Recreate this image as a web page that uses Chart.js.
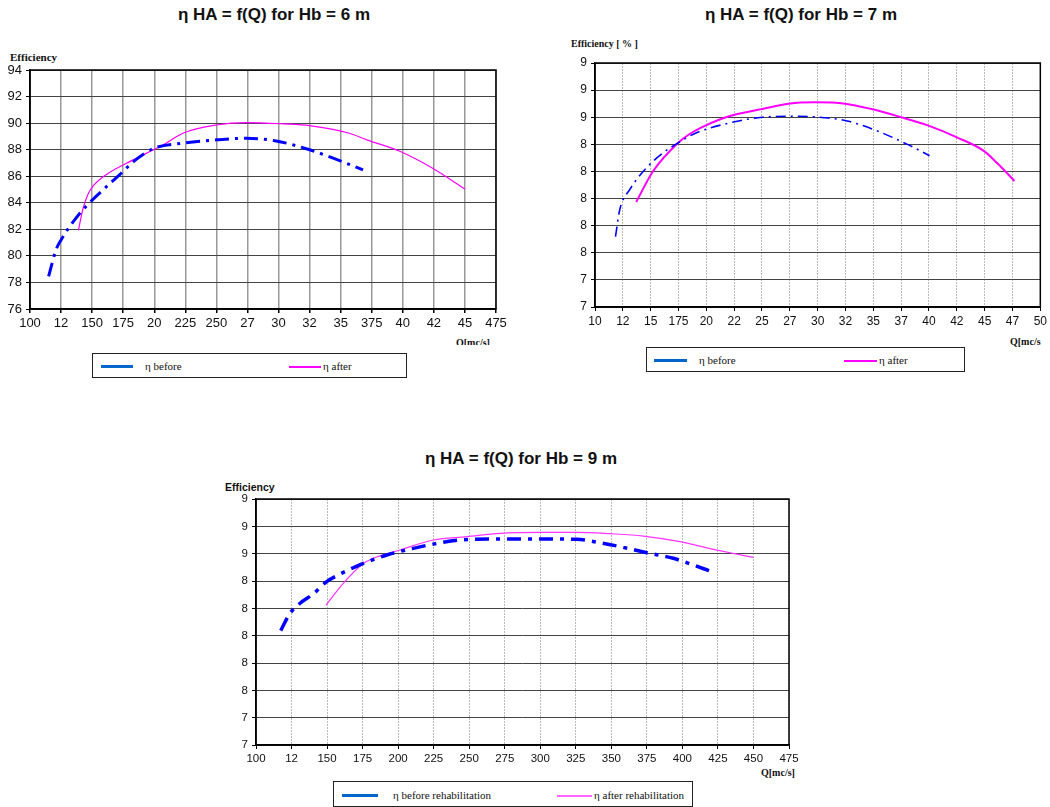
<!DOCTYPE html>
<html>
<head>
<meta charset="utf-8">
<script src="https://cdn.jsdelivr.net/npm/chart.js@4"></script>
<style>
  body { margin: 0; background: #fff; width: 1050px; height: 807px; position: relative; overflow: hidden; }
  .box { position: absolute; }
  .title { position: absolute; font: bold 17px Arial, "Liberation Sans", sans-serif; color: #111; white-space: nowrap; transform: translate(-50%, -50%); }
  .lbl { position: absolute; white-space: nowrap; color: #111; }
  .serif { font-family: "Times New Roman", "Liberation Serif", serif; }
  .legend { position: absolute; border: 1.5px solid #222; box-sizing: border-box; background: #fff; }
  .legend .ln { position: absolute; }
  .legend .tx { position: absolute; font: 11px "Times New Roman", "Liberation Serif", serif; color: #111; white-space: nowrap; transform: translateY(-50%); }
</style>
</head>
<body>

<div class="title" style="left:274px; top:15px;">η HA = f(Q) for Hb = 6 m</div>
<div class="title" style="left:801px; top:15px;">η HA = f(Q) for Hb = 7 m</div>
<div class="title" style="left:521px; top:459px;">η HA = f(Q) for Hb = 9 m</div>

<div class="lbl serif" style="left:10px; top:51px; font-size:11px; font-weight:bold;">Efficiency</div>
<div class="lbl serif" style="left:571px; top:38px; font-size:10px; font-weight:bold;">Efficiency [ % ]</div>
<div class="lbl" style="left:225px; top:481px; font:bold 10.5px Arial, 'Liberation Sans', sans-serif;">Efficiency</div>

<div class="lbl serif" style="left:456px; top:337px; height:8px; overflow:hidden; font-size:10px; font-weight:bold;">Q[mc/s]</div>
<div class="lbl serif" style="left:1010px; top:336px; font-size:10px; font-weight:bold;">Q[mc/s</div>
<div class="lbl serif" style="left:761px; top:767px; font-size:10px; font-weight:bold;">Q[mc/s]</div>

<div class="box" style="left:0; top:0;"><canvas id="chartA" width="510" height="335"></canvas></div>
<div class="box" style="left:530px; top:0;"><canvas id="chartB" width="520" height="335"></canvas></div>
<div class="box" style="left:190px; top:440px;"><canvas id="chartC" width="620" height="335"></canvas></div>

<div class="legend" style="left:92px; top:353px; width:315px; height:25px;">
  <div class="ln" style="left:8px; top:11px; width:32px; height:3px; background:#0066cc;"></div>
  <div class="tx" style="left:52px; top:12px;">η before</div>
  <div class="ln" style="left:196px; top:12px; width:32px; height:1.5px; background:#ff00ff;"></div>
  <div class="tx" style="left:230px; top:12px;">η after</div>
</div>
<div class="legend" style="left:646px; top:347px; width:319px; height:25px;">
  <div class="ln" style="left:7px; top:11px; width:33px; height:3px; background:#0066cc;"></div>
  <div class="tx" style="left:52px; top:12px;">η before</div>
  <div class="ln" style="left:197px; top:12px; width:33px; height:1.5px; background:#ff00ff;"></div>
  <div class="tx" style="left:232px; top:12px;">η after</div>
</div>
<div class="legend" style="left:333px; top:781px; width:360px; height:26px;">
  <div class="ln" style="left:8px; top:12px; width:36px; height:3px; background:#0066cc;"></div>
  <div class="tx" style="left:59px; top:13px;">η before rehabilitation</div>
  <div class="ln" style="left:223px; top:13px; width:35px; height:1.5px; background:#ff66ff;"></div>
  <div class="tx" style="left:260px; top:13px;">η after rehabilitation</div>
</div>

<script>
// tick labels as printed in the source sheet
const xTicksA = ['100','12','150','175','20','225','250','27','30','32','35','375','40','42','45','475'];
const yTicksA = ['76','78','80','82','84','86','88','90','92','94'];
const xTicksB = ['10','12','15','175','20','22','25','27','30','32','35','37','40','42','45','47','50'];
const yTicksB = ['7','7','8','8','8','8','8','9','9','9'];
const xTicksC = ['100','12','150','175','200','225','250','275','300','325','350','375','400','425','450','475'];
const yTicksC = ['7','7','8','8','8','8','8','9','9','9'];

// Hb = 6 m
const qBeforeA   = [115, 121, 125, 137, 145, 156, 172, 185, 200, 223, 250, 274, 298, 325, 344, 368];
const effBeforeA = [78.46, 80.47, 81.2, 82.85, 83.72, 84.73, 86.1, 87.23, 88.11, 88.49, 88.74, 88.86, 88.66, 87.99, 87.36, 86.48];
const qAfterA    = [139, 142.4, 146.5, 150.5, 161, 183, 199, 209.5, 223, 250, 274, 304, 325, 357, 371, 398, 424, 450];
const effAfterA  = [81.92, 83.47, 84.6, 85.23, 86.1, 87.23, 87.98, 88.49, 89.24, 89.86, 90.04, 89.94, 89.81, 89.24, 88.74, 87.86, 86.6, 85.03];

// Hb = 7 m
const qBeforeB   = [118.4, 122.3, 131.2, 146.1, 161, 174.5, 190.7, 220.5, 250.2, 280, 309.7, 327.6, 354.4, 381.1, 400.5];
const effBeforeB = [81.2, 83.2, 84.66, 86.25, 87.36, 88.1, 88.84, 89.57, 90.0, 90.07, 89.94, 89.7, 88.96, 87.98, 87.16];
const qAfterB    = [137, 152, 174.5, 185, 199.6, 220.5, 250.2, 274, 297.8, 324.6, 348.4, 375, 398.9, 425.6, 449.5, 461.4, 476.8];
const effAfterB  = [83.75, 86.0, 88.1, 88.76, 89.4, 90.07, 90.6, 91.0, 91.1, 91.0, 90.6, 90.0, 89.4, 88.5, 87.5, 86.6, 85.3];

// Hb = 9 m
const qBeforeC   = [117.4, 123.9, 131, 140.3, 149.7, 159.1, 168.5, 175.5, 192, 210.7, 224.8, 243.5, 271.7, 299.8, 325.6, 342, 358.5, 374.9, 393.6, 407.7, 419.4];
const effBeforeC = [84.37, 85.63, 86.37, 87.05, 87.95, 88.51, 88.97, 89.29, 89.9, 90.39, 90.7, 91.0, 91.07, 91.07, 91.05, 90.8, 90.46, 90.07, 89.66, 89.17, 88.73];
const qAfterC    = [149.3, 161.4, 175.1, 182.5, 201.3, 224.8, 248.3, 271.7, 299.8, 325.6, 349.1, 372.5, 398.3, 421.8, 435.8, 450];
const effAfterC  = [86.24, 87.83, 89.24, 89.66, 90.27, 91.0, 91.24, 91.49, 91.56, 91.56, 91.46, 91.29, 90.88, 90.32, 90.02, 89.73];

Chart.defaults.font.family = 'Arial, "Liberation Sans", sans-serif';
Chart.defaults.color = '#111';

const frame = {
  id: 'frame',
  beforeDatasetsDraw(chart) {
    const a = chart.chartArea;
    const c = chart.ctx;
    c.save();
    c.strokeStyle = '#000';
    c.lineWidth = 1.5;
    c.strokeRect(a.left, a.top, a.right - a.left, a.bottom - a.top);
    c.restore();
  }
};

function pts(xs, ys) {
  return xs.map((x, i) => ({ x: x, y: ys[i] }));
}

function makeChart(id, o) {
  new Chart(document.getElementById(id), {
    type: 'line',
    data: {
      datasets: [
        {
          data: pts(o.qB, o.eB),
          borderColor: '#0000ff',
          borderWidth: o.wB,
          borderDash: o.dash,
          pointRadius: 0,
          cubicInterpolationMode: 'monotone',
          fill: false
        },
        {
          data: pts(o.qA, o.eA),
          borderColor: o.magenta,
          borderWidth: o.wA,
          pointRadius: 0,
          cubicInterpolationMode: 'monotone',
          fill: false
        }
      ]
    },
    options: {
      responsive: false,
      animation: false,
      layout: { padding: o.pad },
      plugins: { legend: { display: false }, tooltip: { enabled: false } },
      scales: {
        x: {
          type: 'linear',
          min: 100,
          max: o.xMax,
          afterFit: (s) => { s.height = o.xH; },
          afterBuildTicks: (s) => {
            s.ticks = o.xTicks.map((t, i) => ({ value: 100 + i * 25 }));
          },
          ticks: {
            autoSkip: false,
            maxRotation: 0,
            padding: 3,
            font: { size: o.fx },
            callback: (v) => o.xTicks[Math.round((v - 100) / 25)]
          },
          grid: { color: o.vGrid, lineWidth: o.vW, tickLength: 4, tickColor: '#000' },
          border: { display: true, color: '#000', width: 1.5, dash: o.vDash }
        },
        y: {
          min: 76,
          max: 94,
          afterFit: (s) => { s.width = o.yW; },
          afterBuildTicks: (s) => {
            s.ticks = o.yTicks.map((t, i) => ({ value: 76 + i * 2 }));
          },
          ticks: {
            padding: 4,
            font: { size: o.fy },
            callback: (v) => o.yTicks[Math.round((v - 76) / 2)]
          },
          grid: { color: '#444', lineWidth: 1, tickLength: 4, tickColor: '#000' },
          border: { display: true, color: '#000', width: 1.5 }
        }
      }
    },
    plugins: [frame]
  });
}

window.onload = () => {
  makeChart('chartA', {
    qB: qBeforeA, eB: effBeforeA, qA: qAfterA, eA: effAfterA,
    xTicks: xTicksA, yTicks: yTicksA, xMax: 475,
    wB: 3, wA: 1.2, dash: [14, 6, 3, 6], magenta: '#ff00ff',
    vGrid: '#999', vW: 1.5, vDash: [], fx: 13, fy: 13,
    pad: { left: 0, top: 70, right: 14, bottom: 0 }, yW: 30, xH: 26
  });
  makeChart('chartB', {
    qB: qBeforeB, eB: effBeforeB, qA: qAfterB, eA: effAfterB,
    xTicks: xTicksB, yTicks: yTicksB, xMax: 500,
    wB: 1.6, wA: 2, dash: [10, 5, 2, 5], magenta: '#ff00ff',
    vGrid: '#bbb', vW: 1, vDash: [2, 1], fx: 12, fy: 12,
    pad: { left: 0, top: 63, right: 7, bottom: 0 }, yW: 65, xH: 28
  });
  makeChart('chartC', {
    qB: qBeforeC, eB: effBeforeC, qA: qAfterC, eA: effAfterC,
    xTicks: xTicksC, yTicks: yTicksC, xMax: 475,
    wB: 3.5, wA: 1.2, dash: [14, 7, 4, 7], magenta: '#ff33ff',
    vGrid: '#bbb', vW: 1, vDash: [2, 1], fx: 11.5, fy: 11.5,
    pad: { left: 0, top: 59, right: 21, bottom: 0 }, yW: 66, xH: 30
  });
};
</script>
</body>
</html>
